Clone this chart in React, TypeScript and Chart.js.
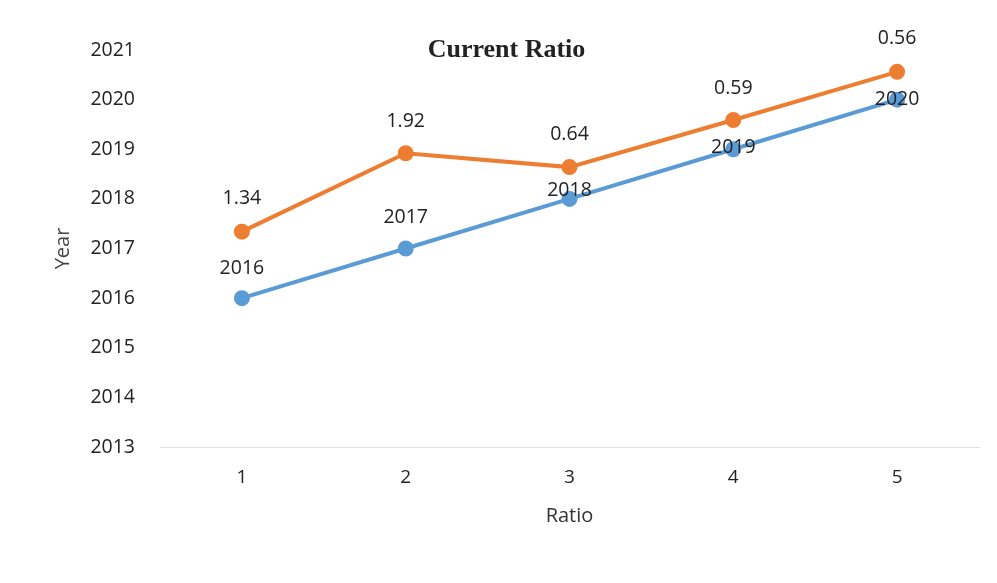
import React, { useEffect, useRef } from "react";
import { Chart, registerables } from "chart.js";

Chart.register(...registerables);

const categories = ["1", "2", "3", "4", "5"];
const years = [2016, 2017, 2018, 2019, 2020];
const ratios = [1.34, 1.92, 0.64, 0.59, 0.56];
const yearLabels = ["2016", "2017", "2018", "2019", "2020"];
const ratioLabels = ["1.34", "1.92", "0.64", "0.59", "0.56"];

const BLUE = "#5B9BD5";
const ORANGE = "#ED7D31";
const FONT = "'Open Sans', 'Noto Sans', sans-serif";

const labelOffsets = [
  [-30, -31, -8, -2, 0],
  [-33, -32, -33, -32, -33],
];

export default function App() {
  const ref = useRef<HTMLCanvasElement | null>(null);

  useEffect(() => {
    if (!ref.current) return;
    const textLists = [yearLabels, ratioLabels];
    const overlay = {
      id: "overlay",
      afterDatasetsDraw(chart: any) {
        const ctx = chart.ctx;
        ctx.save();
        ctx.fillStyle = "#222";
        ctx.font = `19.5px ${FONT}`;
        ctx.textAlign = "center";
        ctx.textBaseline = "middle";
        chart.data.datasets.forEach((_d: any, di: number) => {
          const meta = chart.getDatasetMeta(di);
          meta.data.forEach((pt: any, i: number) => {
            ctx.fillText(textLists[di][i], pt.x, pt.y + labelOffsets[di][i]);
          });
        });
        ctx.font = "bold 26px 'Liberation Serif', 'DejaVu Serif', serif";
        ctx.fillStyle = "#222";
        ctx.fillText("Current Ratio", chart.width / 2 + 8, 42);
        ctx.restore();
      },
    };

    const chart = new Chart(ref.current, {
      type: "line",
      data: {
        labels: categories,
        datasets: [
          {
            label: "Year",
            data: years,
            borderColor: BLUE,
            backgroundColor: BLUE,
            borderWidth: 4,
            pointRadius: 6,
            pointHoverRadius: 6,
            fill: false,
            tension: 0,
          },
          {
            label: "Ratio",
            data: ratios,
            borderColor: ORANGE,
            backgroundColor: ORANGE,
            borderWidth: 4,
            pointRadius: 6,
            pointHoverRadius: 6,
            fill: false,
            tension: 0,
          },
        ],
      },
      options: {
        animation: false,
        responsive: true,
        maintainAspectRatio: false,
        layout: { padding: { left: 43, right: 9, top: 42, bottom: 43 } },
        plugins: {
          legend: { display: false },
          tooltip: { enabled: false },
          title: { display: false },
        },
        scales: {
          x: {
            offset: true,
            grid: { display: false, drawTicks: false },
            border: { display: true, color: "#e0e0e0", dash: [5, 4], width: 1 },
            ticks: { color: "#222", font: { family: FONT, size: 19 }, padding: 19 },
            title: {
              display: true,
              text: "Ratio",
              color: "#333",
              font: { family: FONT, size: 20 },
              padding: { top: 0, bottom: 4 },
            },
            afterFit: (s: any) => {
              s.height = 85;
            },
          },
          y: {
            stacked: true,
            min: 2013,
            max: 2021,
            grid: { display: false, drawTicks: false },
            border: { display: false },
            ticks: {
              stepSize: 1,
              color: "#222",
              font: { family: FONT, size: 19.5 },
              padding: 25,
              callback: (v: any) => String(v),
            },
            title: {
              display: true,
              text: "Year",
              color: "#444",
              font: { family: FONT, size: 20 },
              padding: 0,
            },
            afterFit: (s: any) => {
              s.width = 109;
            },
          },
        },
      },
      plugins: [overlay],
    });
    return () => chart.destroy();
  }, []);

  return (
    <div style={{ width: 981, height: 567, position: "relative" }}>
      <canvas ref={ref} />
    </div>
  );
}
